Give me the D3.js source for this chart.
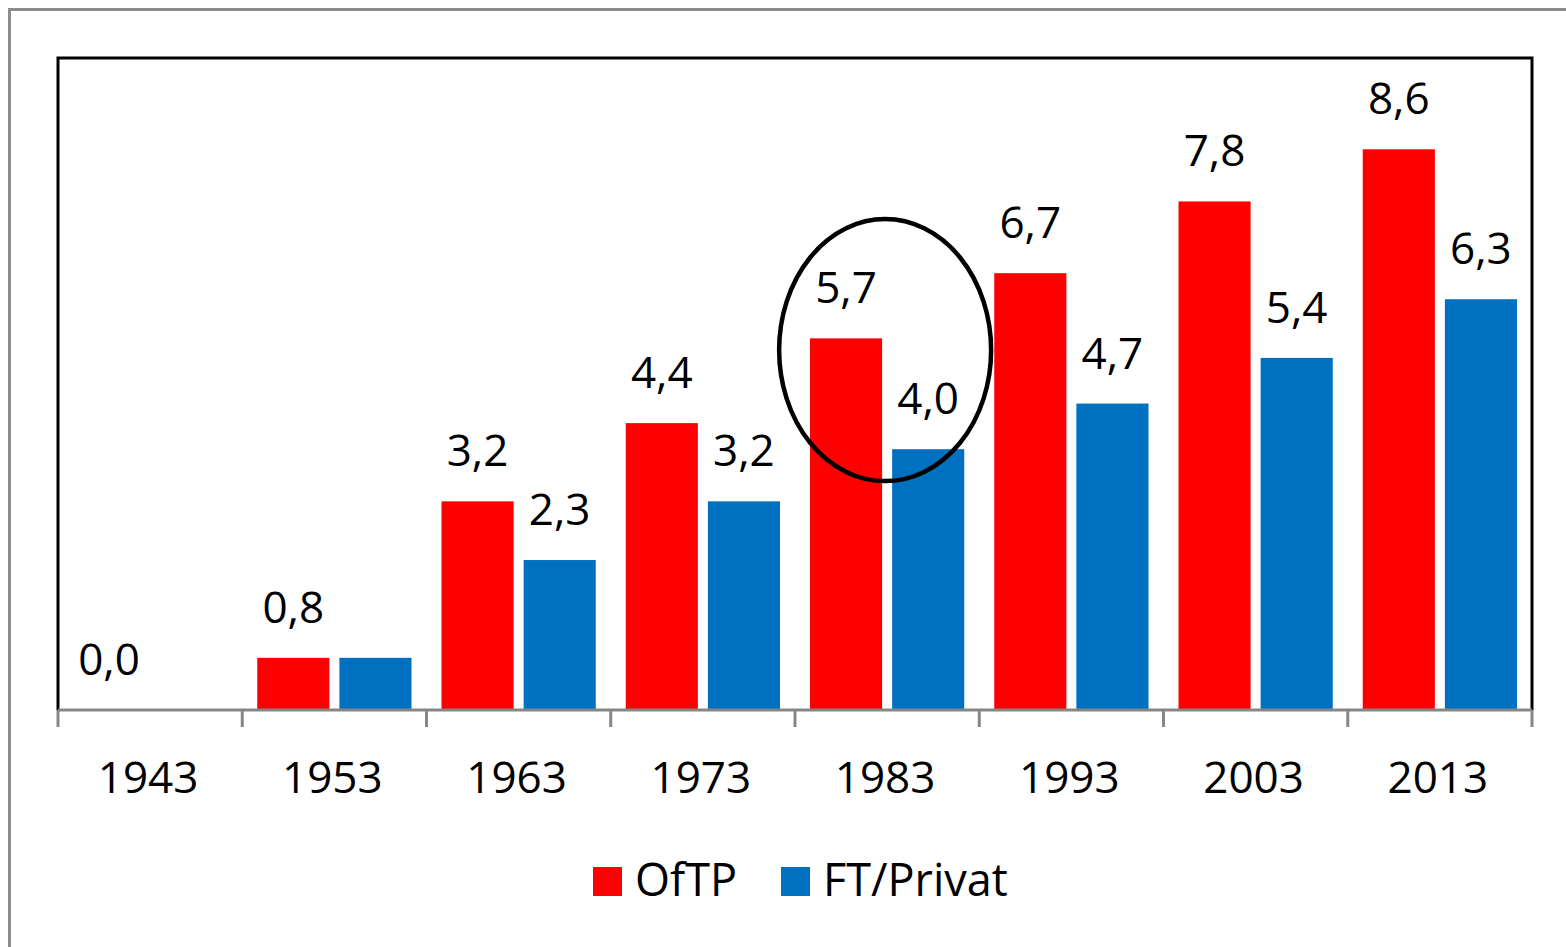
<!DOCTYPE html>
<html>
<head>
<meta charset="utf-8">
<script src="https://cdn.jsdelivr.net/npm/d3@7/dist/d3.min.js"></script>
<style>
  body { margin: 0; background: #fff; }
  svg text { font-family: "Open Sans", sans-serif; fill: #000; }
</style>
</head>
<body>
<div class="chart"></div>
<script>
var years = ["1943", "1953", "1963", "1973", "1983", "1993", "2003", "2013"];
var series = ["OfTP", "FT/Privat"];
var oftp = [0.0, 0.8, 3.2, 4.4, 5.7, 6.7, 7.8, 8.6];
var ftPrivat = [null, 0.8, 2.3, 3.2, 4.0, 4.7, 5.4, 6.3];
// the original chart shows no label on this bar
var noLabel = ["1953|FT/Privat"];
var colors = ["#ff0000", "#0070c0"];

var width = 1566, height = 947;
var m = {left: 58, top: 58, right: 1532, bottom: 710};

var svg = d3.select(".chart").append("svg")
	.attr("width", width).attr("height", height);

// outer frame
svg.append("rect").attr("x", 9.5).attr("y", 9.5)
	.attr("width", 1600).attr("height", 1000)
	.attr("fill", "none").attr("stroke", "#8c8c8c").attr("stroke-width", 3);

var x0 = d3.scaleBand().domain(years).range([m.left, m.right]).padding(0);
var x1 = d3.scaleBand().domain(series).range([15, x0.bandwidth() - 15]).paddingInner(0.122);
var y = d3.scaleLinear().domain([0, 10]).range([m.bottom, m.top]);

// plot border (left, top, right)
svg.append("path")
	.attr("d", "M" + m.left + "," + m.bottom + "V" + m.top + "H" + m.right + "V" + m.bottom)
	.attr("fill", "none").attr("stroke", "#000").attr("stroke-width", 3);

var rows = years.map(function(yr, i){
	return {year: yr, vals: [oftp[i], ftPrivat[i]]};
});

var groups = svg.selectAll(".grp").data(rows).enter().append("g")
	.attr("class", "grp")
	.attr("transform", function(d){ return "translate(" + x0(d.year) + ",0)"; });

var cells = groups.selectAll(".cell")
	.data(function(d){
		return d.vals.map(function(v, j){ return {year: d.year, s: series[j], v: v, j: j}; })
			.filter(function(c){ return c.v !== null; });
	})
	.enter().append("g").attr("class", "cell");

cells.append("rect")
	.attr("x", function(d){ return x1(d.s); })
	.attr("width", x1.bandwidth())
	.attr("y", function(d){ return y(d.v); })
	.attr("height", function(d){ return y(0) - y(d.v); })
	.attr("fill", function(d){ return colors[d.j]; });

cells.filter(function(d){ return noLabel.indexOf(d.year + "|" + d.s) < 0; })
	.append("text")
	.attr("x", function(d){ return x1(d.s) + x1.bandwidth() / 2; })
	.attr("y", function(d){ return y(d.v) - 35; })
	.attr("text-anchor", "middle")
	.style("font-size", "44px")
	.text(function(d){ return d3.format(".1f")(d.v).replace(".", ","); });

// x axis
var xAxis = svg.append("g").attr("transform", "translate(0," + m.bottom + ")");
xAxis.append("line").attr("x1", m.left).attr("x2", m.right)
	.attr("stroke", "#868686").attr("stroke-width", 3);
var tickPos = years.map(function(yr){ return x0(yr); }).concat([m.right]);
xAxis.selectAll(".tk").data(tickPos).enter().append("line")
	.attr("x1", function(d){ return d; }).attr("x2", function(d){ return d; })
	.attr("y1", 0).attr("y2", 17)
	.attr("stroke", "#868686").attr("stroke-width", 3);
xAxis.selectAll(".lbl").data(years).enter().append("text")
	.attr("x", function(d){ return x0(d) + x0.bandwidth() / 2 - 2; })
	.attr("y", 83)
	.attr("text-anchor", "middle")
	.style("font-size", "44px")
	.text(function(d){ return d; });

// ellipse around 1983
svg.append("ellipse")
	.attr("cx", x0("1983") + x0.bandwidth() / 2 - 2)
	.attr("cy", y(5.52))
	.attr("rx", 106).attr("ry", 131)
	.attr("fill", "none").attr("stroke", "#000").attr("stroke-width", 4.5);

// legend
var legend = svg.append("g");
var legX = [593, 781];
series.forEach(function(s, i){
	legend.append("rect").attr("x", legX[i]).attr("y", 867)
		.attr("width", 29).attr("height", 29).attr("fill", colors[i]);
	legend.append("text").attr("x", legX[i] + 42).attr("y", 896)
		.style("font-size", "45px").text(s);
});
</script>
</body>
</html>
